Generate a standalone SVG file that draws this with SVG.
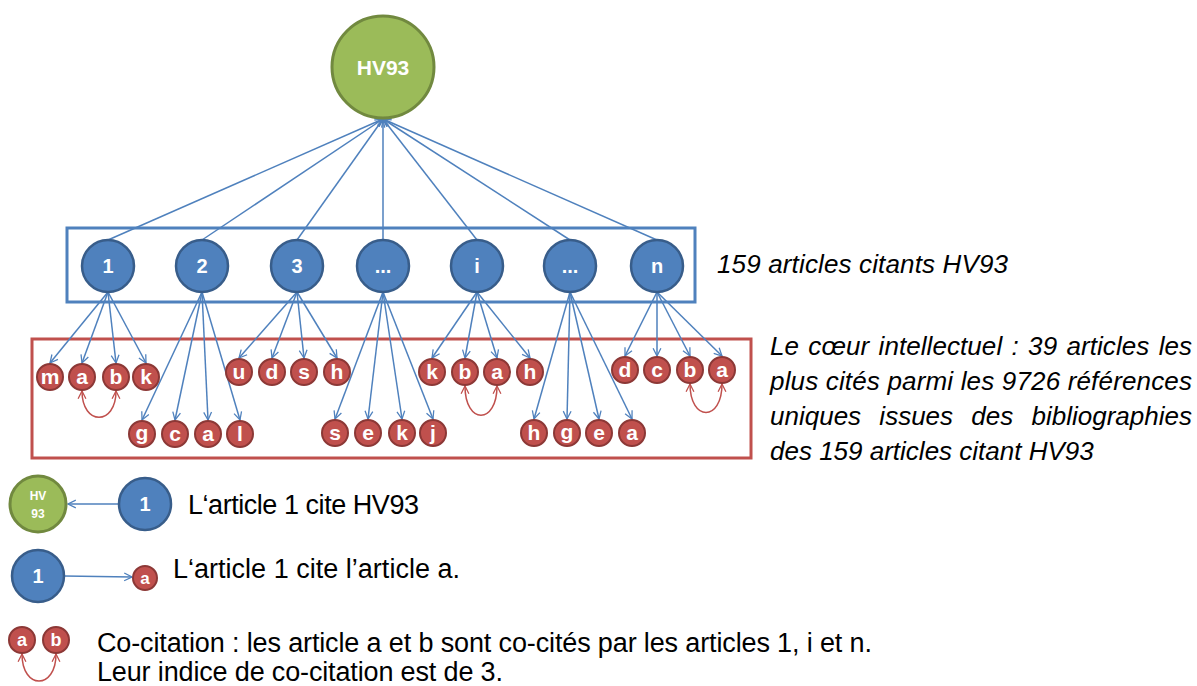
<svg xmlns="http://www.w3.org/2000/svg" width="1197" height="686" viewBox="0 0 1197 686">
<style>
.bn{fill:#4F81BD;stroke:#385D8A;stroke-width:2.5}
.gn{fill:#9BBB59;stroke:#71893F;stroke-width:3}
.rn{fill:#C0504D;stroke:#8C3836;stroke-width:2}
.bt{font-family:"Liberation Sans",Arial,sans-serif;font-weight:bold;font-size:20px;fill:#fff;text-anchor:middle}
.rt{font-family:"Liberation Sans",Arial,sans-serif;font-weight:bold;font-size:21px;fill:#fff;text-anchor:middle}
.c{stroke:#4F81BD;stroke-width:1.5;fill:none;marker-end:url(#ah)}
.cc{stroke:#C0504D;stroke-width:1.5;fill:none;marker-start:url(#rh);marker-end:url(#rh)}
.lt{font-family:"Liberation Sans",Arial,sans-serif;font-size:27px;fill:#000}
.it{font-family:"Liberation Sans",Arial,sans-serif;font-style:italic;font-size:26px;fill:#000}
</style>
<defs>
<marker id="ah" viewBox="0 0 10 10" refX="9" refY="5" markerWidth="6.5" markerHeight="6.5" orient="auto-start-reverse" markerUnits="strokeWidth"><path d="M1,1 L9,5 L1,9" fill="none" stroke="#4F81BD" stroke-width="1.3"/></marker>
<marker id="rh" viewBox="0 0 10 10" refX="9" refY="5" markerWidth="6.5" markerHeight="6.5" orient="auto-start-reverse" markerUnits="strokeWidth"><path d="M1,1 L9,5 L1,9" fill="none" stroke="#C0504D" stroke-width="1.3"/></marker>
</defs>
<rect width="1197" height="686" fill="#fff"/>
<g id="boxes">
<rect x="67" y="228" width="628" height="74" fill="none" stroke="#4F81BD" stroke-width="3"/>
<rect x="32" y="339" width="719" height="119" fill="none" stroke="#C0504D" stroke-width="3"/>
</g>
<g id="connectors">
<path class="c" d="M108,240 L383,119"/>
<path class="c" d="M202,240 L383,119"/>
<path class="c" d="M297,240 L383,119"/>
<path class="c" d="M383,240 L383,119"/>
<path class="c" d="M477,240 L383,119"/>
<path class="c" d="M570,240 L383,119"/>
<path class="c" d="M657,240 L383,119"/>
<path class="c" d="M108,292 L50,363"/>
<path class="c" d="M108,292 L82,363"/>
<path class="c" d="M108,292 L116,363"/>
<path class="c" d="M108,292 L146,363"/>
<path class="c" d="M202,292 L142,420"/>
<path class="c" d="M202,292 L175,420"/>
<path class="c" d="M202,292 L208,420"/>
<path class="c" d="M202,292 L240,420"/>
<path class="c" d="M297,292 L239,358"/>
<path class="c" d="M297,292 L272,358"/>
<path class="c" d="M297,292 L304,358"/>
<path class="c" d="M297,292 L337,358"/>
<path class="c" d="M383,292 L335,419"/>
<path class="c" d="M383,292 L368,419"/>
<path class="c" d="M383,292 L402,419"/>
<path class="c" d="M383,292 L433,419"/>
<path class="c" d="M477,292 L432,358"/>
<path class="c" d="M477,292 L465,358"/>
<path class="c" d="M477,292 L497,358"/>
<path class="c" d="M477,292 L530,358"/>
<path class="c" d="M570,292 L534,419"/>
<path class="c" d="M570,292 L567,419"/>
<path class="c" d="M570,292 L599,419"/>
<path class="c" d="M570,292 L632,419"/>
<path class="c" d="M657,292 L625,356"/>
<path class="c" d="M657,292 L657,356"/>
<path class="c" d="M657,292 L690,356"/>
<path class="c" d="M657,292 L722,356"/>
<path class="cc" d="M82,391 C82,426 116,426 116,391"/>
<path class="cc" d="M465,386 C465,425 497,425 497,386"/>
<path class="cc" d="M690,384 C690,422 722,422 722,384"/>
<path class="c" d="M119,504 L68,504"/>
<path class="c" d="M64,576 L132,577"/>
<path class="cc" d="M22,654 C22,690 56,690 56,654"/>
</g>
<g id="hv93"><circle class="gn" cx="383" cy="67" r="51"/><text class="bt" x="383" y="75" style="font-size:21px">HV93</text></g>
<g id="n1"><circle class="bn" cx="108" cy="266" r="26"/><text class="bt" x="108" y="273">1</text></g>
<g id="n2"><circle class="bn" cx="202" cy="266" r="26"/><text class="bt" x="202" y="273">2</text></g>
<g id="n3"><circle class="bn" cx="297" cy="266" r="26"/><text class="bt" x="297" y="273">3</text></g>
<g id="n4"><circle class="bn" cx="383" cy="266" r="26"/><text class="bt" x="383" y="273">...</text></g>
<g id="ni"><circle class="bn" cx="477" cy="266" r="26"/><text class="bt" x="477" y="273">i</text></g>
<g id="n6"><circle class="bn" cx="570" cy="266" r="26"/><text class="bt" x="570" y="273">...</text></g>
<g id="nn"><circle class="bn" cx="657" cy="266" r="26"/><text class="bt" x="657" y="273">n</text></g>
<g id="r1m"><circle class="rn" cx="50" cy="377" r="13"/><text class="rt" x="50" y="384">m</text></g>
<g id="r1a"><circle class="rn" cx="82" cy="377" r="13"/><text class="rt" x="82" y="384">a</text></g>
<g id="r1b"><circle class="rn" cx="116" cy="377" r="13"/><text class="rt" x="116" y="384">b</text></g>
<g id="r1k"><circle class="rn" cx="146" cy="377" r="13"/><text class="rt" x="146" y="384">k</text></g>
<g id="r2g"><circle class="rn" cx="142" cy="434" r="13"/><text class="rt" x="142" y="440">g</text></g>
<g id="r2c"><circle class="rn" cx="175" cy="434" r="13"/><text class="rt" x="175" y="441">c</text></g>
<g id="r2a"><circle class="rn" cx="208" cy="434" r="13"/><text class="rt" x="208" y="441">a</text></g>
<g id="r2l"><circle class="rn" cx="240" cy="434" r="13"/><text class="rt" x="240" y="441">l</text></g>
<g id="r3u"><circle class="rn" cx="239" cy="372" r="13"/><text class="rt" x="239" y="379">u</text></g>
<g id="r3d"><circle class="rn" cx="272" cy="372" r="13"/><text class="rt" x="272" y="379">d</text></g>
<g id="r3s"><circle class="rn" cx="304" cy="372" r="13"/><text class="rt" x="304" y="379">s</text></g>
<g id="r3h"><circle class="rn" cx="337" cy="372" r="13"/><text class="rt" x="337" y="379">h</text></g>
<g id="r4s"><circle class="rn" cx="335" cy="433" r="13"/><text class="rt" x="335" y="440">s</text></g>
<g id="r4e"><circle class="rn" cx="368" cy="433" r="13"/><text class="rt" x="368" y="440">e</text></g>
<g id="r4k"><circle class="rn" cx="402" cy="433" r="13"/><text class="rt" x="402" y="440">k</text></g>
<g id="r4j"><circle class="rn" cx="433" cy="433" r="13"/><text class="rt" x="433" y="440">j</text></g>
<g id="r5k"><circle class="rn" cx="432" cy="372" r="13"/><text class="rt" x="432" y="379">k</text></g>
<g id="r5b"><circle class="rn" cx="465" cy="372" r="13"/><text class="rt" x="465" y="379">b</text></g>
<g id="r5a"><circle class="rn" cx="497" cy="372" r="13"/><text class="rt" x="497" y="379">a</text></g>
<g id="r5h"><circle class="rn" cx="530" cy="372" r="13"/><text class="rt" x="530" y="379">h</text></g>
<g id="r6h"><circle class="rn" cx="534" cy="433" r="13"/><text class="rt" x="534" y="440">h</text></g>
<g id="r6g"><circle class="rn" cx="567" cy="433" r="13"/><text class="rt" x="567" y="439">g</text></g>
<g id="r6e"><circle class="rn" cx="599" cy="433" r="13"/><text class="rt" x="599" y="440">e</text></g>
<g id="r6a"><circle class="rn" cx="632" cy="433" r="13"/><text class="rt" x="632" y="440">a</text></g>
<g id="r7d"><circle class="rn" cx="625" cy="370" r="13"/><text class="rt" x="625" y="377">d</text></g>
<g id="r7c"><circle class="rn" cx="657" cy="370" r="13"/><text class="rt" x="657" y="377">c</text></g>
<g id="r7b"><circle class="rn" cx="690" cy="370" r="13"/><text class="rt" x="690" y="377">b</text></g>
<g id="r7a"><circle class="rn" cx="722" cy="370" r="13"/><text class="rt" x="722" y="377">a</text></g>
<g id="label-citing"><text class="it" x="717" y="273" textLength="291" lengthAdjust="spacing">159 articles citants HV93</text></g>
<g id="label-core">
<text class="it" x="770" y="355" word-spacing="2" textLength="422" lengthAdjust="spacing">Le cœur intellectuel : 39 articles les</text>
<text class="it" x="770" y="390" textLength="422" lengthAdjust="spacing">plus cités parmi les 9726 références</text>
<text class="it" x="770" y="425" word-spacing="11" textLength="422" lengthAdjust="spacing">uniques issues des bibliographies</text>
<text class="it" x="770" y="460">des 159 articles citant HV93</text>
</g>
<g id="legend-hv93"><circle class="gn" cx="38" cy="504" r="28"/><text class="bt" x="38" y="500" style="font-size:12px">HV</text><text class="bt" x="38" y="518" style="font-size:12px">93</text></g>
<g id="legend-n1a"><circle class="bn" cx="145" cy="504" r="26"/><text class="bt" x="145" y="511">1</text></g>
<g id="legend-t1"><text class="lt" x="188" y="514" textLength="231" lengthAdjust="spacing">L‘article 1 cite HV93</text></g>
<g id="legend-n1b"><circle class="bn" cx="38" cy="576" r="26"/><text class="bt" x="38" y="583">1</text></g>
<g id="legend-ra"><circle class="rn" cx="145" cy="578" r="12"/><text class="rt" x="145" y="584" style="font-size:17px">a</text></g>
<g id="legend-t2"><text class="lt" x="173" y="578" textLength="287" lengthAdjust="spacing">L‘article 1 cite l’article a.</text></g>
<g id="legend-ca"><circle class="rn" cx="22" cy="640" r="13"/><text class="rt" x="22" y="646" style="font-size:18px">a</text></g>
<g id="legend-cb"><circle class="rn" cx="56" cy="640" r="13"/><text class="rt" x="56" y="646" style="font-size:18px">b</text></g>
<g id="legend-t3">
<text class="lt" x="97" y="652" textLength="775" lengthAdjust="spacing">Co-citation : les article a et b sont co-cités par les articles 1, i et n.</text>
<text class="lt" x="97" y="681" textLength="406" lengthAdjust="spacing">Leur indice de co-citation est de 3.</text>
</g>
</svg>
